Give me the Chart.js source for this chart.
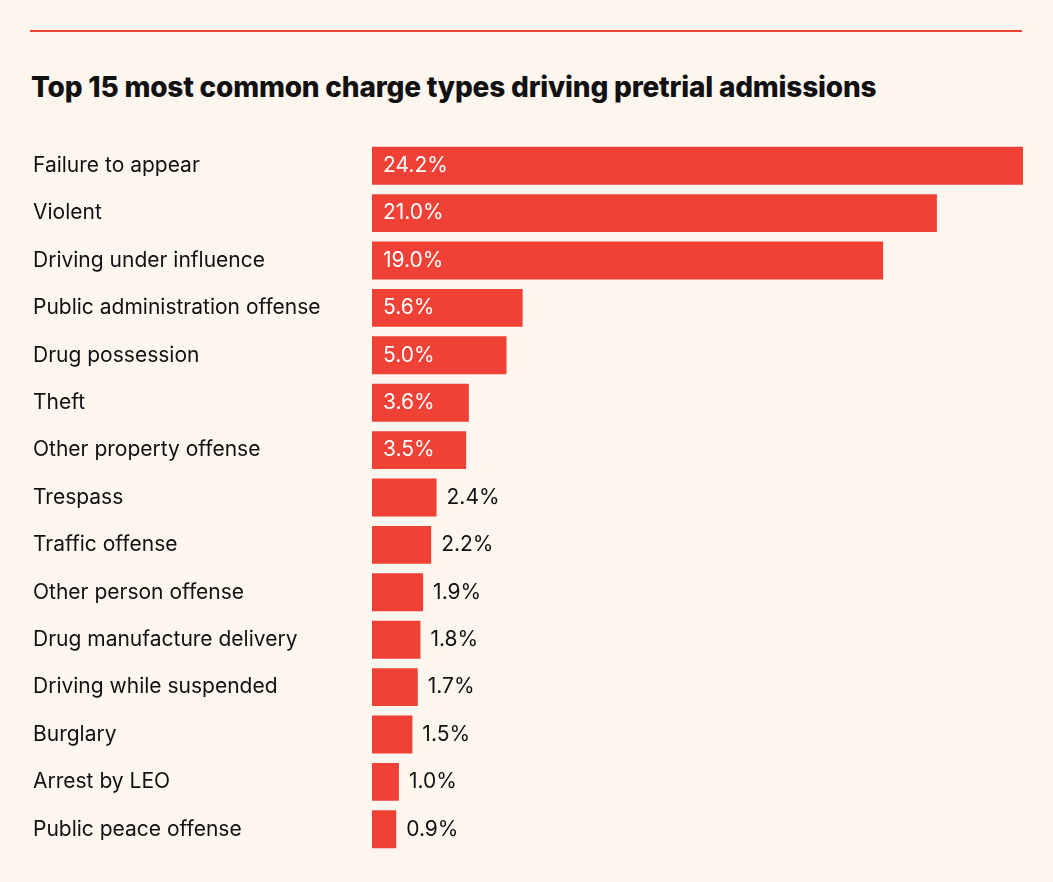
<!DOCTYPE html>
<html><head><meta charset="utf-8">
<script src="https://cdn.jsdelivr.net/npm/chart.js@4"></script>
<style>
body{margin:0;background:#fdf6ef;width:1053px;height:882px;position:relative;font-family:Inter,"Noto Sans",sans-serif;}
#rule{position:absolute;left:30px;top:30px;width:992px;height:2px;background:#ef4136;}
h1{position:absolute;left:31px;top:70px;margin:0;font-size:28px;font-weight:800;color:#111;letter-spacing:-0.2px;}
#wrap{position:absolute;left:30px;top:142px;width:993px;height:711px;}
</style></head><body>
<div id="rule"></div>
<h1>Top 15 most common charge types driving pretrial admissions</h1>
<div id="wrap"><canvas id="c"></canvas></div>
<script>
const categories = ["Failure to appear","Violent","Driving under influence","Public administration offense","Drug possession","Theft","Other property offense","Trespass","Traffic offense","Other person offense","Drug manufacture delivery","Driving while suspended","Burglary","Arrest by LEO","Public peace offense"];
const shares = [24.2,21.0,19.0,5.6,5.0,3.6,3.5,2.4,2.2,1.9,1.8,1.7,1.5,1.0,0.9];
const font = '21px Inter, "Noto Sans", sans-serif';

const labelPlugin = {
  id: "labels",
  afterDatasetsDraw(chart) {
    const ctx = chart.ctx;
    const meta = chart.getDatasetMeta(0);
    ctx.save();
    ctx.font = font;
    ctx.textBaseline = "middle";
    meta.data.forEach((bar, i) => {
      ctx.fillStyle = "#111";
      ctx.textAlign = "left";
      ctx.fillText(categories[i], 3, bar.y);
      const txt = shares[i].toFixed(1) + "%";
      if (shares[i] >= 3.5) {
        ctx.fillStyle = "#fff";
        ctx.fillText(txt, bar.base + 11, bar.y);
      } else {
        ctx.fillStyle = "#111";
        ctx.fillText(txt, bar.x + 10, bar.y);
      }
    });
    ctx.restore();
  }
};

new Chart(document.getElementById("c"), {
  type: "bar",
  data: { labels: categories, datasets: [{ data: shares, backgroundColor: "#ef4136", barPercentage: 0.8, categoryPercentage: 1 }] },
  options: {
    indexAxis: "y", responsive: true, maintainAspectRatio: false, animation: false,
    layout: { padding: { left: 342, right: 0, top: 0, bottom: 0 } },
    scales: { x: { display: false, min: 0, max: 24.2 }, y: { display: false } },
    plugins: { legend: { display: false }, tooltip: { enabled: false } }
  },
  plugins: [labelPlugin]
});
</script>
</body></html>
